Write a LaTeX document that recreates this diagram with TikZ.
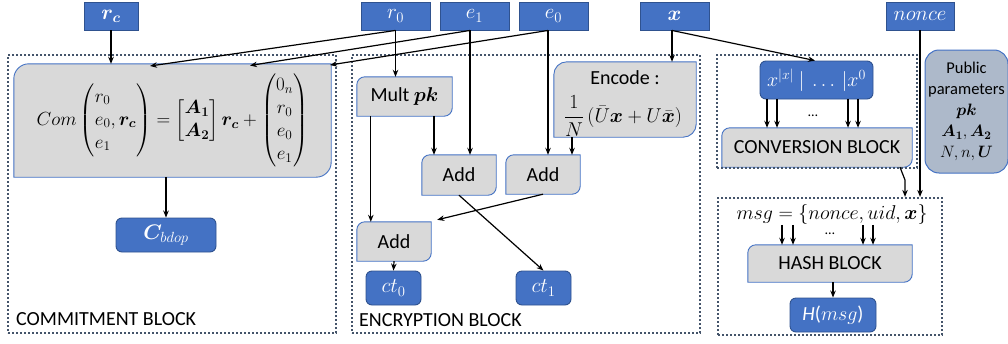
\RequirePackage{fix-cm}
\documentclass[tikz,border=0pt]{standalone}
\usepackage{amsmath}
\usepackage{bm}
\usepackage[no-math]{fontspec}
\setmainfont{Carlito}
\usetikzlibrary{arrows.meta}
\pgfdeclarelayer{background}
\pgfsetlayers{background,main}
\definecolor{blueF}{HTML}{4472C4}
\definecolor{blueD}{HTML}{2F528F}
\definecolor{grayF}{HTML}{D9D9D9}
\definecolor{pubF}{HTML}{ADB9CA}
\definecolor{dotC}{HTML}{44546A}
\tikzset{
 base/.style={inner sep=0pt, font=\fontsize{20}{24}\selectfont, align=center},
 inbox/.style={base, fill=blueF, draw=blueD, line width=0.9pt, text=white, font=\fontsize{21}{24}\selectfont},
 outbox/.style={inbox, rounded corners=6pt},
 pubbox/.style={base, fill=pubF, draw=blueF, line width=1pt, rounded corners=14pt, font=\fontsize{16.5}{21}\selectfont},
 frame/.style={draw=dotC, line width=2.2pt, dash pattern=on 2pt off 2pt, inner sep=0pt},
 arr/.style={-{Stealth[length=7pt,width=5.5pt]}, line width=1.2pt, black},
 diagfill/.style={fill=grayF, draw=blueF, line width=0.9pt},
 smalldots/.style={inner sep=0pt, font=\fontsize{14}{16}\selectfont},
}
\newcommand\diagoutline[2]{%
 \begin{pgfonlayer}{background}
 \path[diagfill] (#1.north) -- (#1.north east) -- ([yshift=#2pt]#1.south east)
   .. controls ([yshift=0.45*#2pt]#1.south east) and ([xshift=-0.45*#2pt]#1.south east) .. ([xshift=-#2pt]#1.south east)
   -- (#1.south west) -- ([yshift=-#2pt]#1.north west)
   .. controls ([yshift=-0.45*#2pt]#1.north west) and ([xshift=0.45*#2pt]#1.north west) .. ([xshift=#2pt]#1.north west)
   -- cycle;
 \end{pgfonlayer}}
\begin{document}
\begin{tikzpicture}[x=1pt,y=-1pt]
\useasboundingbox (0,0) rectangle (1008,343);
% block frames
\node[frame, minimum width=328pt, minimum height=278pt] (commitblk) at (172,194) {};
\node[frame, minimum width=348pt, minimum height=278pt] (encblk) at (526,194) {};
\node[frame, minimum width=200pt, minimum height=113pt] (convblk) at (817,111.5) {};
\node[frame, minimum width=224pt, minimum height=137pt] (hashblk) at (830,266.5) {};
\node[base, anchor=west] (commitlbl) at (16,319) {COMMITMENT BLOCK};
\node[base, anchor=west] (enclbl) at (359,320) {ENCRYPTION BLOCK};
% inputs
\node[inbox, minimum width=54pt, minimum height=28pt] (rc) at (111,16) {$\bm{r}_{\bm{c}}$};
\node[inbox, minimum width=69pt, minimum height=28pt] (r0) at (395.5,16) {$r_0$};
\node[inbox, minimum width=69pt, minimum height=28pt] (e1) at (474.5,16) {$e_1$};
\node[inbox, minimum width=69pt, minimum height=28pt] (e0) at (553.5,16) {$e_0$};
\node[inbox, minimum width=69pt, minimum height=28pt] (xin) at (674.5,16) {$\bm{x}$};
\node[inbox, minimum width=68pt, minimum height=28pt] (nonce) at (920,16) {$nonce$};
% commitment
\node[base, minimum width=317pt, minimum height=113pt, font=\fontsize{19}{23}\selectfont] (com) at (172.5,120.5)
 {$Com\left(\begin{array}{@{}l@{}} r_0\\ e_0,\bm{r}_{\bm c}\\ e_1\end{array}\right) = \begin{bmatrix}\bm{A}_{\bm 1}\\ \bm{A}_{\bm 2}\end{bmatrix}\bm{r}_{\bm c} + \begin{pmatrix}0_n\\ r_0\\ e_0\\ e_1\end{pmatrix}$};
\diagoutline{com}{15}
\node[outbox, minimum width=100pt, minimum height=34pt] (cbdop) at (166,235) {$\bm{C}_{bdop}$};
% encryption
\node[base, minimum width=95pt, minimum height=39pt] (mult) at (404.5,96.5) {Mult $\bm{pk}$};
\diagoutline{mult}{8}
\node[base, minimum width=142pt, minimum height=75pt] (enc) at (625,99.5) {};
\diagoutline{enc}{13}
\node[base] (enctitle) at (625,78) {Encode :};
\node[base] (encfrac) at (623,116) {$\dfrac{1}{N}\,(\bar{U}\bm{x}+U\bar{\bm{x}})$};
\node[base, minimum width=74pt, minimum height=40pt] (add1) at (459,175) {Add};
\diagoutline{add1}{8}
\node[base, minimum width=74pt, minimum height=39pt] (add2) at (543,174.5) {Add};
\diagoutline{add2}{8}
\node[base, minimum width=74pt, minimum height=39pt] (add3) at (394,241.5) {Add};
\diagoutline{add3}{8}
\node[outbox, minimum width=55pt, minimum height=34pt] (ct0) at (393.5,288) {$ct_0$};
\node[outbox, minimum width=55pt, minimum height=34pt] (ct1) at (543.5,288) {$ct_1$};
% conversion
\node[outbox, minimum width=113pt, minimum height=38pt, font=\fontsize{20}{24}\selectfont] (xbits) at (816.5,80) {$x^{|x|}\ |\ \ldots\,|x^0$};
\node[base, minimum width=190pt, minimum height=39pt] (conv) at (817,147.5) {CONVERSION BLOCK};
\diagoutline{conv}{8}
\node[smalldots] (cdots) at (813,116) {\dots};
% hash
\node[base] (msg) at (832,214) {$msg = \{nonce, uid, \bm{x}\}$};
\node[base, minimum width=164pt, minimum height=37pt] (hashbox) at (830,263.5) {HASH BLOCK};
\diagoutline{hashbox}{8}
\node[smalldots] (hdots) at (830,234) {\dots};
\node[outbox, minimum width=86pt, minimum height=34pt, font=\fontsize{20}{24}\selectfont] (hmsg) at (833,315) {\textit{H}($msg$)};
% public parameters
\node[pubbox, minimum width=83pt, minimum height=123pt] (pub) at (966.5,111.5) {Public\\parameters\\$\bm{pk}$\\$\bm{A}_{\bm 1},\bm{A}_{\bm 2}$\\$N,n,\bm{U}$};
% coordinates
\coordinate (cin1) at (150,66);
\coordinate (cin2) at (250,65.5);
\coordinate (cin3) at (330,65);
\coordinate (e1s) at ([xshift=-4.5pt]e1.south);
\coordinate (e0s) at ([xshift=-5.5pt]e0.south);
\coordinate (xs) at ([xshift=-2.5pt]xin.south);
\coordinate (kink) at (905,180);
% arrows
\draw[arr] (rc.south) -- (rc.south |- com.north);
\draw[arr] (r0.south) -- (cin1);
\draw[arr] (e1s) -- (cin2);
\draw[arr] (e0s) -- (cin3);
\draw[arr] (r0.south) -- (r0.south |- mult.north);
\draw[arr] (e1s) -- (e1s |- add1.north);
\draw[arr] (e0s) -- (e0s |- add2.north);
\draw[arr] ([xshift=14pt]mult.south west) -- ([xshift=14pt]mult.south west |- add3.north);
\draw[arr] ([xshift=29.5pt]mult.south) -- ([xshift=29.5pt]mult.south |- add1.north);
\draw[arr] ([xshift=-53pt]enc.south) -- ([xshift=-53pt]enc.south |- add2.north);
\draw[arr] (xs) -- (xs |- enc.north);
\draw[arr] (xs) -- ([xshift=-1.5pt]xbits.north);
\draw[arr] (add2.south) -- ([shift={(6pt,2pt)}]add3.north east);
\draw[arr] (add1.south) -- (ct1.north);
\draw[arr] (add3.south) -- (ct0.north);
\draw[arr] (cbdop.north |- com.south) -- (cbdop.north);
\foreach \d in {-49.5,-39.5,31.5,41.5}
  \draw[arr] ([xshift=\d pt]xbits.south) -- ([xshift=\d pt]xbits.south |- conv.north);
\draw[arr] ([xshift=83pt]conv.south) -- (kink) -- (kink |- hashblk.north);
\draw[arr] (nonce.south) -- (nonce.south |- hashblk.north);
\foreach \d in {-48,-37,33,43}
  \draw[arr] ([shift={(\d pt,20pt)}]hashbox.north) -- ([xshift=\d pt]hashbox.north);
\draw[arr] (hmsg.north |- hashbox.south) -- (hmsg.north);
\end{tikzpicture}
\end{document}
